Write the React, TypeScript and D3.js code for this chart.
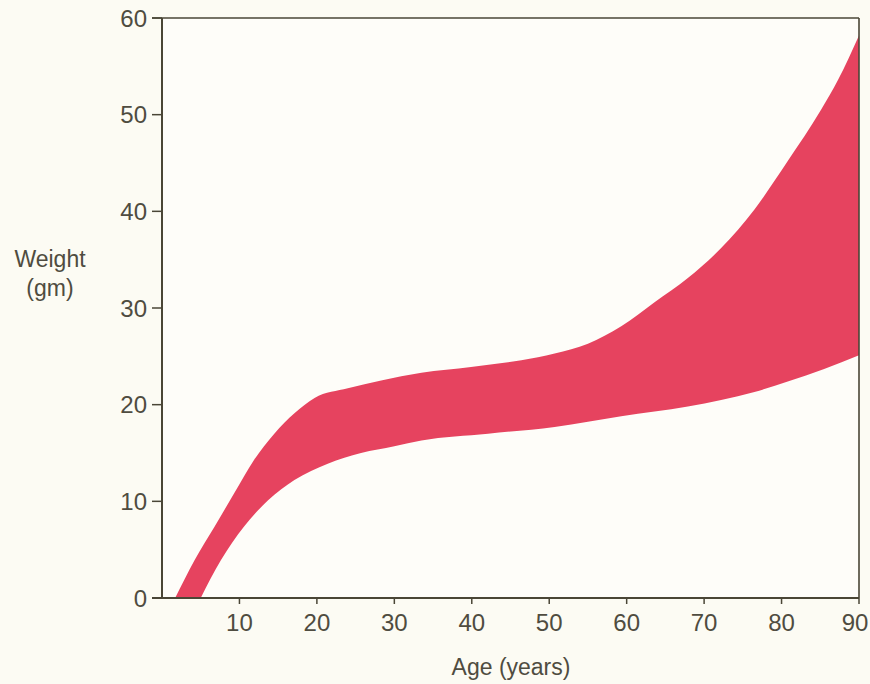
import React from "react";
import * as d3 from "d3";

const upperAge = [1.7, 4.2, 6.8, 9.3, 11.9, 14.5, 17.1, 19.7, 24, 28.3, 33.5, 39.9, 46.4, 50.7, 55, 59.3, 63.6, 67.9, 72.2, 76.5, 80.8, 85.1, 87.3, 90];
const upperWeight = [0, 3.9, 7.4, 10.8, 14.3, 17, 19.1, 20.7, 21.7, 22.5, 23.3, 23.9, 24.6, 25.3, 26.3, 28.1, 30.6, 33.1, 36.2, 40.2, 45.2, 50.5, 53.6, 58.2];
const lowerAge = [5, 7.6, 10.6, 13.7, 17.1, 21.4, 25.7, 30, 33.5, 42.1, 50.7, 59.3, 67.9, 76.5, 80.8, 85.5, 90];
const lowerWeight = [0, 3.9, 7.4, 10.1, 12.2, 13.9, 15, 15.7, 16.3, 17, 17.7, 18.8, 19.8, 21.3, 22.4, 23.7, 25.1];
const xTicks = [10, 20, 30, 40, 50, 60, 70, 80, 90];
const yTicks = [0, 10, 20, 30, 40, 50, 60];

export default function App() {
  const W = 870, H = 684;
  const left = 162, right = 859, top = 18, bottom = 598;
  const x = d3.scaleLinear().domain([0, 90]).range([left, right]);
  const y = d3.scaleLinear().domain([0, 60]).range([bottom, top]);
  const line = d3
    .line<[number, number]>()
    .x((d) => x(d[0]))
    .y((d) => y(d[1]))
    .curve(d3.curveMonotoneX);
  const up: [number, number][] = upperAge.map((a, i) => [a, upperWeight[i]]);
  const lo: [number, number][] = lowerAge.map((a, i) => [a, lowerWeight[i]] as [number, number]).reverse();
  const bandPath = (line(up) || "") + (line(lo) || "").replace(/^M/, "L") + "Z";
  const axisColor = "#4a4636";
  const textColor = "#4f4c40";
  const font = "'Liberation Sans', Arial, sans-serif";
  return (
    <svg width={W} height={H} style={{ position: "absolute", left: 0, top: 0 }} fontFamily={font}>
      <rect x={0} y={0} width={W} height={H} fill="#fcfbf3" />
      <rect x={left} y={top} width={right - left} height={bottom - top} fill="#fefdf9" />
      <path d={bandPath} fill="#e6435f" />
      <line x1={left - 10} x2={right} y1={top} y2={top} stroke={axisColor} strokeWidth={1.6} />
      <line x1={right} x2={right} y1={top} y2={bottom} stroke={axisColor} strokeWidth={1.6} />
      <line x1={left} x2={left} y1={top} y2={bottom} stroke={axisColor} strokeWidth={2} />
      <line x1={left - 10} x2={right} y1={bottom} y2={bottom} stroke={axisColor} strokeWidth={2} />
      {yTicks.map((t) => (
        <g key={"y" + t}>
          <line x1={left - 10} x2={left} y1={y(t)} y2={y(t)} stroke={axisColor} strokeWidth={1.5} />
          <text x={147} y={y(t)} dy="0.36em" textAnchor="end" fontSize={24} fill={textColor}>
            {t}
          </text>
        </g>
      ))}
      {xTicks.map((t) => (
        <g key={"x" + t}>
          <line x1={x(t)} x2={x(t)} y1={bottom} y2={bottom + 6} stroke={axisColor} strokeWidth={1.5} />
          <text x={Math.min(x(t), W - 15)} y={631} textAnchor="middle" fontSize={24} fill={textColor}>
            {t}
          </text>
        </g>
      ))}
      <text x={50} y={267} textAnchor="middle" fontSize={23} fill={textColor}>Weight</text>
      <text x={50} y={296} textAnchor="middle" fontSize={23} fill={textColor}>(gm)</text>
      <text x={511} y={675} textAnchor="middle" fontSize={23} fill={textColor}>Age (years)</text>
    </svg>
  );
}
